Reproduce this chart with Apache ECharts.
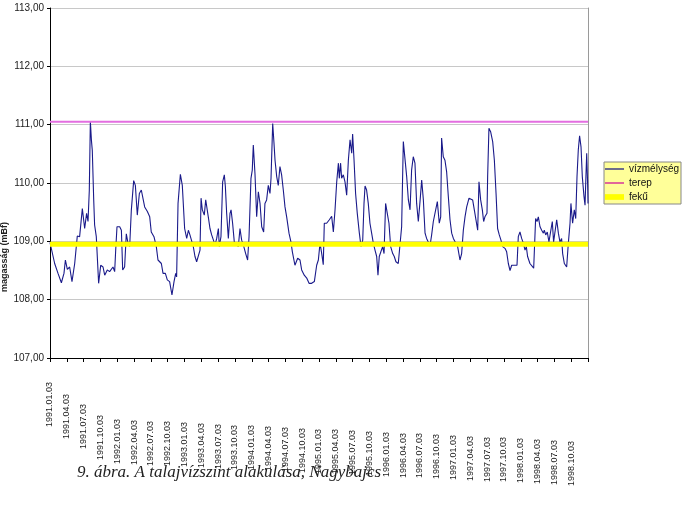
<!DOCTYPE html>
<html>
<head>
<meta charset="utf-8">
<script src="https://cdn.jsdelivr.net/npm/echarts@6/dist/echarts.min.js"></script>
<style>
html,body{margin:0;padding:0;background:#fff;}
#chart{width:688px;height:520px;}
</style>
</head>
<body>
<div id="chart"></div>
<script>
// x values: weeks since 1991.01.03 ; y values: water level (mBf)
const tickLabels = [
  '1991.01.03','1991.04.03','1991.07.03','1991.10.03',
  '1992.01.03','1992.04.03','1992.07.03','1992.10.03',
  '1993.01.03','1993.04.03','1993.07.03','1993.10.03',
  '1994.01.03','1994.04.03','1994.07.03','1994.10.03',
  '1995.01.03','1995.04.03','1995.07.03','1995.10.03',
  '1996.01.03','1996.04.03','1996.07.03','1996.10.03',
  '1997.01.03','1997.04.03','1997.07.03','1997.10.03',
  '1998.01.03','1998.04.03','1998.07.03','1998.10.03'
];
const yTicks = [107, 108, 109, 110, 111, 112, 113];

const level1991_93 = [[0,108.98],[3.6,108.62],[6.2,108.45],[8.8,108.29],[10.8,108.45],[11.9,108.68],[13.4,108.52],[15.2,108.56],[17.0,108.31],[19.1,108.62],[21.1,109.09],[22.9,109.08],[25.0,109.56],[26.8,109.22],[28.3,109.48],[29.4,109.34],[30.4,109.88],[31.2,111.06],[32.0,110.74],[32.7,110.56],[33.8,109.71],[34.5,109.28],[35.8,109.08],[37.6,108.28],[39.2,108.59],[41.0,108.56],[42.3,108.42],[44.3,108.51],[46.1,108.48],[48.7,108.56],[50.0,108.48],[50.8,108.85],[51.8,109.25],[53.9,109.25],[55.2,109.19],[56.2,108.51],[57.7,108.56],[59.0,109.13],[60.3,108.97],[61.6,108.91],[62.9,109.54],[64.7,110.04],[66.0,109.96],[67.5,109.45],[69.1,109.82],[70.6,109.88],[71.9,109.91],[73.2,109.59],[75.3,109.51],[77.1,109.42],[78.3,109.16],[80.4,109.08],[82.2,108.91],[83.5,108.68],[86.1,108.62],[87.4,108.45],[89.2,108.45],[90.7,108.34],[92.5,108.31],[94.3,108.08],[95.4,108.08],[95.9,108.31],[97.2,108.45],[97.9,108.39],[99.0,109.65],[100.8,110.15],[102.3,109.96],[104.1,109.22]];

const level1993_95 = [[105.7,109.05],[107.0,109.19],[108.2,109.11],[109.5,109.11],[110.8,108.91],[112.1,108.74],[113.4,108.65],[114.7,108.62],[116.0,108.85],[116.8,109.74],[117.8,109.54],[119.3,109.45],[120.4,109.71],[121.4,109.74],[122.4,109.42],[123.7,109.22],[125.0,109.11],[126.3,109.14],[127.6,108.94],[128.9,109.05],[130.2,109.22],[130.9,108.91],[132.2,109.08],[133.5,110.02],[134.8,110.14],[135.6,109.94],[136.6,109.48],[137.9,109.05],[139.2,109.48],[140.0,109.54],[141.2,109.31],[142.5,108.99],[143.8,108.97],[145.6,108.91],[146.9,109.22],[148.2,109.02],[149.5,108.94],[151.3,108.79],[152.8,108.68],[153.9,109.08],[155.4,110.08],[156.4,110.22],[157.2,110.65],[158.5,110.16],[159.8,109.42],[161.1,109.85],[162.4,109.65],[163.7,109.25],[165.2,109.16],[166.2,109.65],[167.5,109.71],[168.8,109.96],[170.1,109.82],[170.9,110.08],[172.2,111.02],[173.2,110.68],[174.0,110.39],[175.3,110.11],[176.5,109.96],[177.8,110.28],[179.1,110.14],[180.4,109.88],[181.7,109.59],[183.0,109.42],[184.8,109.14],[186.3,108.99],[187.4,108.82],[189.4,108.59],[191.5,108.71],[193.3,108.68],[194.6,108.51],[196.6,108.42],[198.5,108.37],[200.3,108.28],[202.3,108.28],[204.4,108.31],[206.2,108.59],[207.5,108.68],[208.8,108.97],[210.1,108.79],[211.3,108.60]];

const level1995_97 = [[212.1,109.31],[213.9,109.31],[216.0,109.37],[217.8,109.43],[219.1,109.16],[220.4,109.54],[221.7,110.02],[223.0,110.34],[223.7,110.08],[224.7,110.34],[225.5,110.08],[226.8,110.14],[228.1,110.02],[229.4,109.79],[230.7,110.39],[232.0,110.74],[233.3,110.51],[234.0,110.84],[235.1,110.39],[236.3,109.82],[237.6,109.48],[239.2,109.14],[240.5,108.91],[241.8,109.02],[242.8,109.65],[243.6,109.95],[244.8,109.88],[246.1,109.65],[247.4,109.31],[248.7,109.14],[250.0,108.97],[251.3,108.85],[252.6,108.74],[253.6,108.42],[254.6,108.74],[255.9,108.77],[257.2,108.91],[258.3,108.79],[259.5,109.65],[260.8,109.48],[262.1,109.31],[263.4,108.91],[265.0,108.79],[266.2,108.74],[267.5,108.65],[269.3,108.62],[270.6,108.59],[271.9,109.25],[273.2,110.71],[274.7,110.71],[275.8,110.11],[277.1,109.71],[278.4,109.54],[279.6,110.22],[280.9,110.45],[282.2,110.34],[283.5,109.65],[284.8,109.34],[286.1,109.68],[287.4,110.05],[288.7,109.71],[290.0,109.14],[291.2,109.05],[292.5,108.99],[293.8,108.92],[295.1,109.11],[296.4,109.34],[297.7,109.31],[299.5,109.68],[301.0,109.31],[302.1,109.42],[302.8,110.77],[304.1,110.45],[305.4,110.39],[306.7,110.19],[308.0,109.77],[309.3,109.37],[310.6,109.14],[311.9,109.05],[313.7,108.97],[315.2,108.91]];

const level1997_98 = [[317.0,108.68],[318.3,108.79],[319.6,109.19],[320.9,109.42],[322.2,109.59],[324.0,109.74],[325.5,109.77],[326.8,109.71],[328.1,109.54],[329.4,109.51],[330.7,109.19],[331.7,110.02],[333.0,109.71],[334.3,109.54],[335.3,109.34],[336.3,109.42],[337.9,109.48],[338.4,110.11],[339.4,110.94],[340.7,110.88],[341.5,110.91],[342.3,110.71],[343.6,110.39],[344.9,109.82],[346.1,109.22],[347.4,109.11],[348.7,109.02],[350.0,108.91],[351.8,108.88],[353.1,108.82],[354.4,108.62],[355.7,108.50],[357.0,108.59],[359.0,108.59],[361.1,108.59],[362.1,109.08],[363.4,109.16],[364.7,109.05],[366.0,108.97],[367.3,108.85],[368.3,108.91],[369.3,108.74],[371.1,108.62],[372.4,108.59],[374.0,108.54],[375.5,109.39],[376.6,109.34],[377.6,109.42],[378.9,109.25],[380.2,109.19],[381.5,109.14],[382.2,109.19],[383.3,109.11],[384.5,109.16],[385.8,108.99],[387.1,108.97],[388.4,109.34],[389.4,108.99],[390.5,109.02],[391.8,109.37],[393.1,109.14],[394.3,108.99],[395.6,109.05],[396.4,108.79],[397.7,108.62],[399.5,108.56],[400.8,108.97],[402.1,109.31],[402.8,109.65],[404.1,109.31],[405.4,109.54],[406.5,109.39],[407.5,110.11],[408.5,110.57],[409.5,110.81],[410.6,110.62],[411.6,110.11],[412.9,109.77],[413.7,109.62],[414.4,110.11],[415.0,110.51],[415.7,109.99],[416,109.65]];

const terepLevel = 111.05;
const fekuLevel = 108.95;
const weekStart = 0, weekEnd = 416, weeksPerQuarter = 13;

const vizmelyseg = level1991_93.concat(level1993_95, level1995_97, level1997_98);

// label offsets (style only)
const labelOffsets = tickLabels.map((_, i) => {
  if (i === 0) return 22;
  if (i === 1) return 34;
  if (i === 2) return 44;
  if (i === 3) return 55;
  return 59 + 0.8 * (i - 4);
});
const rich = {};
labelOffsets.forEach((o, i) => {
  rich['o' + i] = { padding: [0, Math.round(o - 22), 0, 0], fontSize: 9, color: '#222', fontFamily: 'Liberation Sans' };
});

const chart = echarts.init(document.getElementById('chart'), null, {renderer: 'canvas'});
const font = 'Liberation Sans';
chart.setOption({
  animation: false,
  backgroundColor: '#fff',
  textStyle: { fontFamily: font },
  title: {
    text: '9. ábra. A talajvízszint alakulása, Nagybajcs',
    left: 72, top: 459,
    textStyle: { fontFamily: 'Liberation Serif', fontStyle: 'italic', fontWeight: 'normal', fontSize: 17, color: '#222' }
  },
  grid: { left: 50, right: 100, top: 8, bottom: 162, containLabel: false },
  legend: {
    orient: 'vertical', left: 604, top: 162,
    backgroundColor: '#ffff99', borderColor: '#888', borderWidth: 1,
    padding: [2, 2, 2, 1], itemGap: 4, itemWidth: 19, itemHeight: 12,
    textStyle: { fontSize: 10, color: '#111', fontFamily: font },
    data: [
      { name: 'vízmélység', icon: 'path://M0,0 L10,0 L10,1 L0,1 Z', itemStyle: { color: '#666688' } },
      { name: 'terep', icon: 'path://M0,0 L10,0 L10,1 L0,1 Z', itemStyle: { color: '#e0609a' } },
      { name: 'fekű', icon: 'path://M0,0 L10,0 L10,3 L0,3 Z', itemStyle: { color: '#ffff00' } }
    ],
    itemStyle: { borderWidth: 0 }
  },
  xAxis: {
    type: 'value', min: weekStart, max: weekEnd, interval: weeksPerQuarter,
    axisLine: { show: true, lineStyle: { color: '#000', width: 1 } },
    axisTick: { show: true, length: 4, lineStyle: { color: '#000' } },
    splitLine: { show: false },
    axisLabel: {
      rotate: 90, margin: 24, fontSize: 9, color: '#222', hideOverlap: false,
      showMinLabel: true, showMaxLabel: true,
      formatter: function (v) {
        const i = Math.round(v / weeksPerQuarter);
        return tickLabels[i] ? '{o' + i + '|' + tickLabels[i] + '}' : '';
      },
      rich: rich
    }
  },
  yAxis: [{
    type: 'value', min: yTicks[0], max: yTicks[yTicks.length - 1], interval: 1,
    axisLine: { show: true, lineStyle: { color: '#000' } },
    axisTick: { show: true, length: 3, lineStyle: { color: '#000' } },
    splitLine: { show: true, lineStyle: { color: '#c8c8c8', width: 1 } },
    axisLabel: {
      fontSize: 10, color: '#222', margin: 6,
      formatter: v => v.toFixed(2).replace('.', ',')
    }
  }, {
    type: 'value', position: 'right', min: yTicks[0], max: yTicks[yTicks.length - 1], interval: 1,
    axisLine: { show: true, lineStyle: { color: '#9a9a9a' } },
    axisTick: { show: false }, axisLabel: { show: false }, splitLine: { show: false }
  }],
  graphic: [{
    type: 'text', x: 5, y: 257, rotation: Math.PI / 2,
    style: { text: 'magasság (mBf)', fontSize: 9, fontWeight: 'bold', fill: '#222', fontFamily: font, align: 'center', verticalAlign: 'middle' }
  }],
  series: [
    {
      name: 'vízmélység', type: 'line', data: vizmelyseg, symbol: 'none', showSymbol: false,
      lineStyle: { color: '#1a1a8a', width: 1.1 }, itemStyle: { color: '#1a1a8a' }, z: 2
    },
    {
      name: 'terep', type: 'line', data: [[weekStart, terepLevel], [weekEnd, terepLevel]], symbol: 'none',
      lineStyle: { color: '#e36ee0', width: 2 }, itemStyle: { color: '#e36ee0' }, z: 3
    },
    {
      name: 'fekű', type: 'line', data: [[weekStart, fekuLevel], [weekEnd, fekuLevel]], symbol: 'none',
      lineStyle: { color: '#ffff00', width: 5 }, itemStyle: { color: '#ffff00' }, z: 4
    }
  ]
});
</script>
</body>
</html>
